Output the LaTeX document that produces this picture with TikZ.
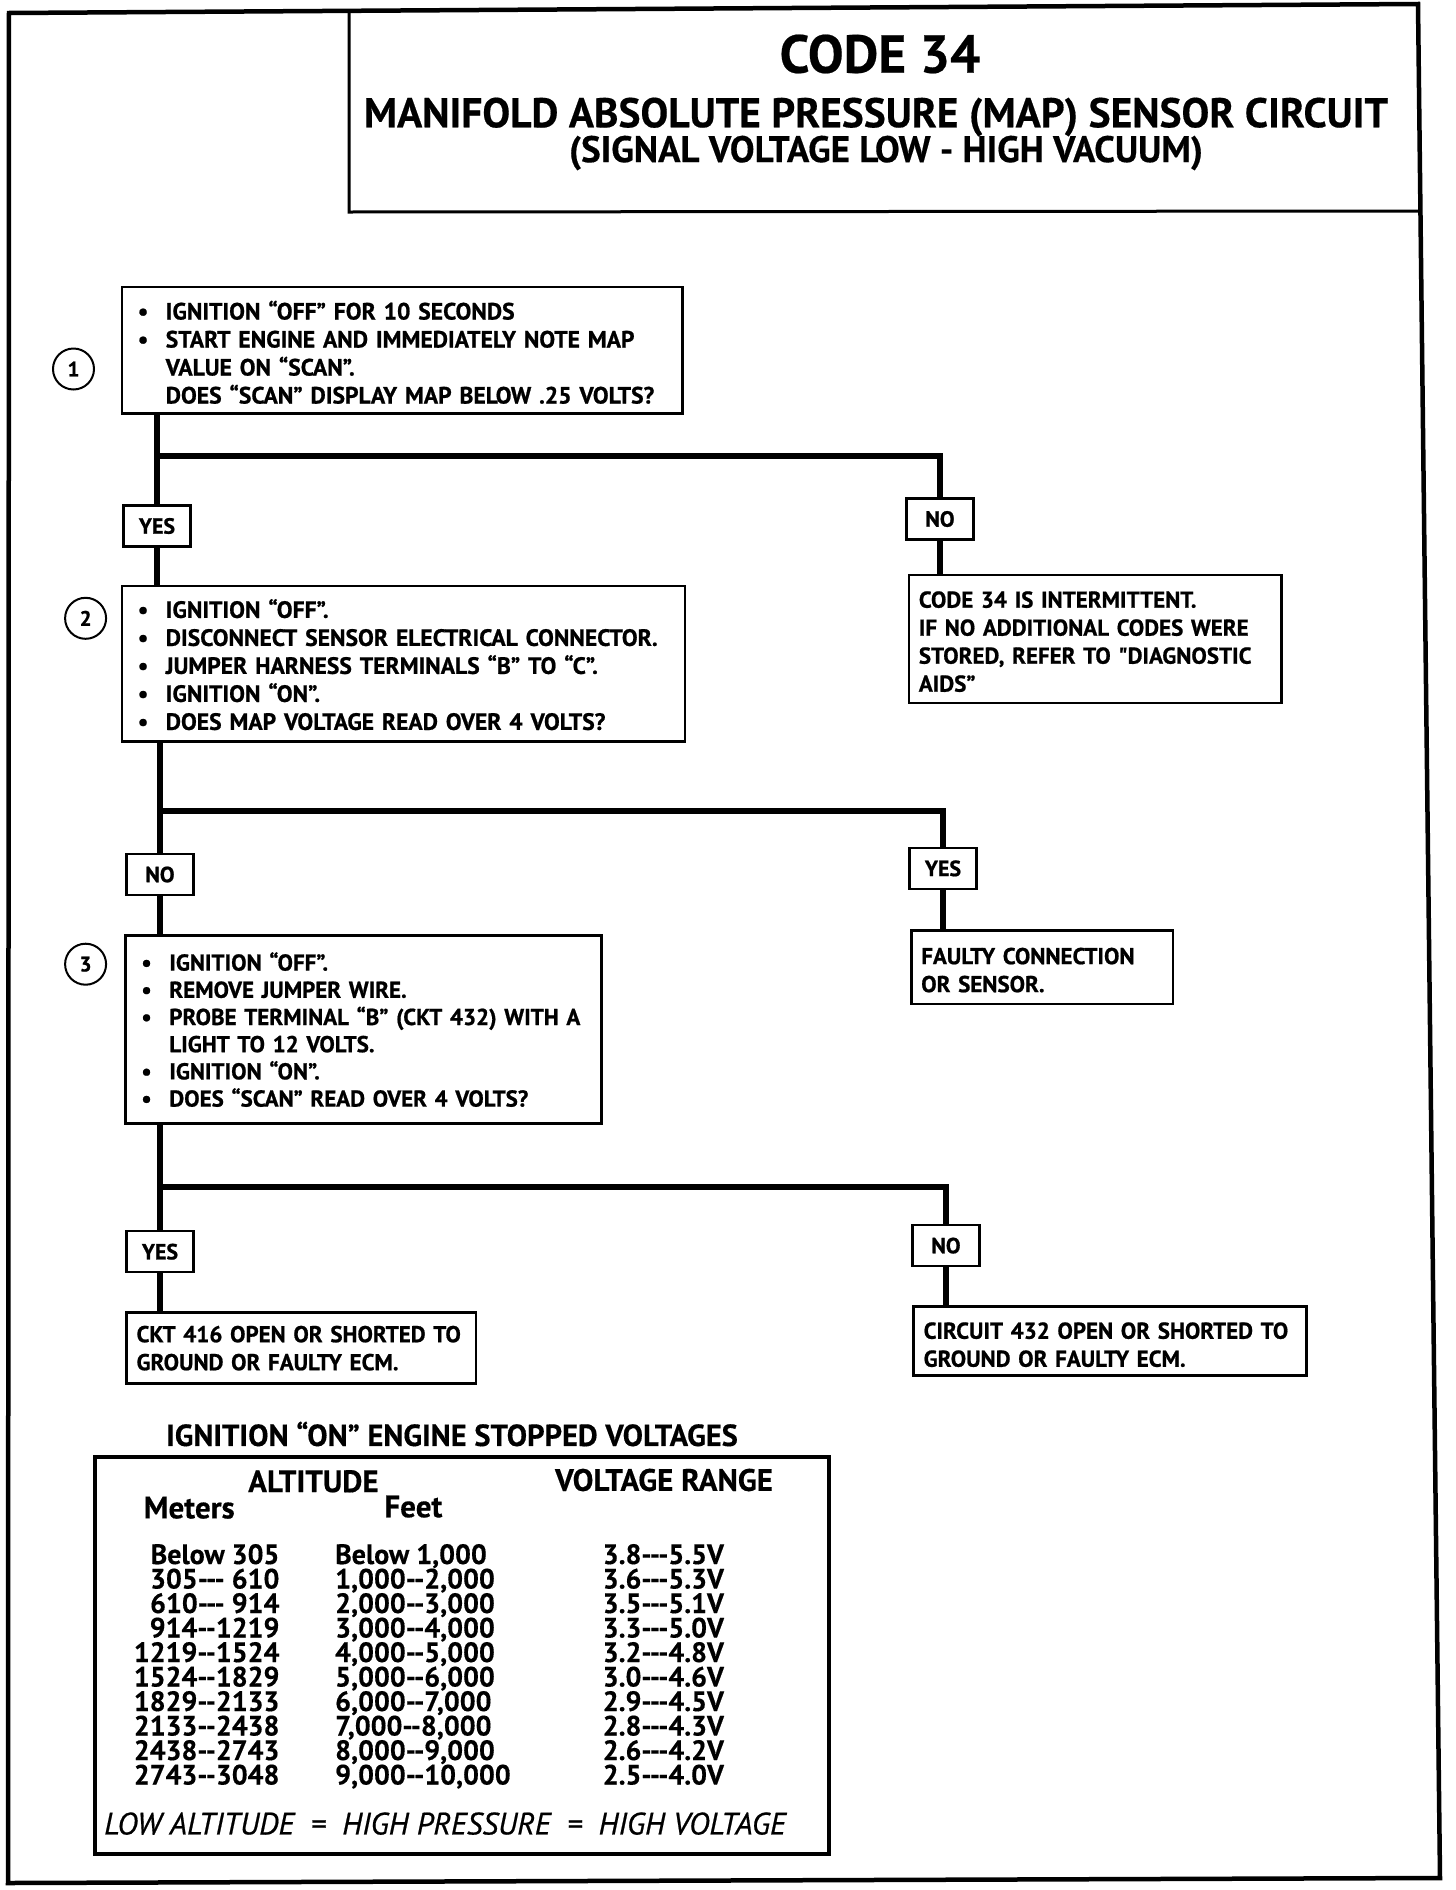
\documentclass[tikz,border=0pt]{standalone}
\usepackage{fontspec}
\setmainfont{PT Sans}
\newfontfamily\hvfont{PT Sans Bold}[FakeBold=0.8]
\newfontfamily\hdfont{PT Sans Bold}[FakeBold=0.4]
\newfontfamily\itfont{PT Sans Italic}[FakeBold=0.6]
\usetikzlibrary{calc}
\newcommand{\bul}{\makebox[28pt][l]{\textbullet}}
\newcommand{\ind}{\hspace*{28pt}}
\newcommand{\topstrut}{\rule{0pt}{23pt}}
\begin{document}
\begin{tikzpicture}[x=1pt,y=-1pt,
  conn/.style={line width=6pt},
  stepbox/.style={draw,line width=2.5pt,anchor=north west,inner xsep=16pt,inner ysep=0pt,align=left,
    font=\hvfont\fontsize{23.6}{28}\selectfont},
  outbox/.style={draw,line width=2.5pt,anchor=north west,inner xsep=10pt,inner ysep=0pt,align=left,
    font=\hvfont\fontsize{23}{28}\selectfont},
  yn/.style={draw,fill=white,line width=2.5pt,minimum width=67pt,minimum height=41pt,inner sep=0pt,
    font=\hvfont\fontsize{22}{22}\selectfont},
  num/.style={circle,draw,line width=2pt,minimum size=41pt,inner sep=0pt,
    font=\hvfont\fontsize{21}{21}\selectfont},
  tabtxt/.style={inner sep=0pt,font=\hdfont\fontsize{28}{28}\selectfont},
  tabhead/.style={inner sep=0pt,font=\hdfont\fontsize{31}{31}\selectfont},
]
\useasboundingbox (0,0) rectangle (1456,1890);
% outer frame
\draw[line width=4.5pt,line join=miter] (9,13) -- (1418,4) -- (1440,1878) -- (8,1883) -- cycle;
% title box
\draw[line width=3pt] (349,9) -- (349,212) -- (1420.5,211);
\node[inner sep=0pt,font=\hdfont\fontsize{53.5}{54}\selectfont] (t1) at (880,54) {CODE 34};
\node[inner sep=0pt,font=\hdfont\fontsize{41.5}{42}\selectfont] (t2) at (876,117) {MANIFOLD ABSOLUTE PRESSURE (MAP) SENSOR CIRCUIT};
\node[inner sep=0pt,font=\hdfont\fontsize{37}{37}\selectfont] (t3) at (886,153) {(SIGNAL VOLTAGE LOW - HIGH VACUUM)};

% step 1
\node[stepbox,text width=528.5pt,minimum height=126.5pt] (b1) at (120.5,285.7) {%
\topstrut\bul IGNITION “OFF” FOR 10 SECONDS\\
\bul START ENGINE AND IMMEDIATELY NOTE MAP\\
\ind VALUE ON “SCAN”.\\
\ind DOES “SCAN” DISPLAY MAP BELOW .25 VOLTS?};
\node[num] (n1) at (73.5,369) {1};
\node[yn] (yes1) at (157,526) {YES};
\node[yn] (no1) at (940,519) {NO};
\node[outbox,text width=352.4pt,minimum height=127.8pt] (int) at (907.6,573.7) {%
\rule{0pt}{22pt}CODE 34 IS INTERMITTENT.\\
IF NO ADDITIONAL CODES WERE\\
STORED, REFER TO "DIAGNOSTIC\\
AIDS”};
\coordinate (j1) at (157,455.6);
\draw[conn] (b1.south -| yes1) -- (yes1.north);
\draw[conn] (j1) -| (no1.north);
\draw[conn] (no1.south) -- (int.north -| no1);

% step 2
\node[stepbox,text width=531pt,minimum height=155.4pt] (b2) at (120.5,584.6) {%
\rule{0pt}{21pt}\bul IGNITION “OFF”.\\
\bul DISCONNECT SENSOR ELECTRICAL CONNECTOR.\\
\bul JUMPER HARNESS TERMINALS “B” TO “C”.\\
\bul IGNITION “ON”.\\
\bul DOES MAP VOLTAGE READ OVER 4 VOLTS?};
\draw[conn] (yes1.south) -- (b2.north -| yes1);
\node[num] (n2) at (85.6,618.3) {2};
\node[yn] (no2) at (160,874.5) {NO};
\node[yn] (yes2) at (943,868.4) {YES};
\node[outbox,text width=241.5pt,minimum height=73.5pt] (faulty) at (910,929.3) {%
\rule{0pt}{22pt}FAULTY CONNECTION\\
OR SENSOR.};
\coordinate (j2) at (160,811);
\draw[conn] (b2.south -| no2) -- (no2.north);
\draw[conn] (j2) -| (yes2.north);
\draw[conn] (yes2.south) -- (faulty.north -| yes2);

% step 3
\node[stepbox,text width=444pt,minimum height=188pt,font=\hvfont\fontsize{23}{27.2}\selectfont] (b3) at (124.1,934) {%
\rule{0pt}{19pt}\bul IGNITION “OFF”.\\
\bul REMOVE JUMPER WIRE.\\
\bul PROBE TERMINAL “B” (CKT 432) WITH A\\
\ind LIGHT TO 12 VOLTS.\\
\bul IGNITION “ON”.\\
\bul DOES “SCAN” READ OVER 4 VOLTS?};
\draw[conn] (no2.south) -- (b3.north -| no2);
\node[num] (n3) at (85.6,964.2) {3};
\node[yn] (yes3) at (160,1251.7) {YES};
\node[yn] (no3) at (946,1245.6) {NO};
\node[outbox,text width=329.6pt,minimum height=71pt] (ckt) at (125.3,1311.4) {%
CKT 416 OPEN OR SHORTED TO\\
GROUND OR FAULTY ECM.};
\node[outbox,text width=373pt,minimum height=68.7pt] (circ) at (912.4,1305.3) {%
\rule{0pt}{24pt}CIRCUIT 432 OPEN OR SHORTED TO\\
GROUND OR FAULTY ECM.};
\coordinate (j3) at (160,1187);
\draw[conn] (b3.south -| yes3) -- (yes3.north);
\draw[conn] (j3) -| (no3.north);
\draw[conn] (yes3.south) -- (ckt.north -| yes3);
\draw[conn] (no3.south) -- (circ.north -| no3);

% table
\node[inner sep=0pt,font=\hdfont\fontsize{30.5}{31}\selectfont] (tt) at (452,1434) {IGNITION “ON” ENGINE STOPPED VOLTAGES};
\node[draw,line width=4pt,anchor=north west,minimum width=733.8pt,minimum height=397pt,inner sep=0pt] (tab) at (93,1454.8) {};
\node[tabhead] (halt) at (313.4,1481.3) {ALTITUDE};
\node[tabhead] (hvol) at (664,1480) {VOLTAGE RANGE};
\node[tabhead] (hmet) at (189.2,1507.7) {Meters};
\node[tabhead] (hft) at (413.4,1506.6) {Feet};
\foreach \m/\f/\v [count=\i from 0] in {Below 305/Below 1{,}000/3.8---5.5V,305--- 610/1{,}000--2{,}000/3.6---5.3V,610--- 914/2{,}000--3{,}000/3.5---5.1V,914--1219/3{,}000--4{,}000/3.3---5.0V,1219--1524/4{,}000--5{,}000/3.2---4.8V,1524--1829/5{,}000--6{,}000/3.0---4.6V,1829--2133/6{,}000--7{,}000/2.9---4.5V,2133--2438/7{,}000--8{,}000/2.8---4.3V,2438--2743/8{,}000--9{,}000/2.6---4.2V,2743--3048/9{,}000--10{,}000/2.5---4.0V}{
  \node[tabtxt,anchor=base east] (m\i) at (279.6,1564+24.5*\i) {\m};
  \node[tabtxt,anchor=base west] (f\i) at (335,1564+24.5*\i) {\f};
  \node[tabtxt,anchor=base west] (v\i) at (602.6,1564+24.5*\i) {\v};
}
\node[inner sep=0pt,font=\itfont\fontsize{31}{31}\selectfont] (low) at (445,1823.6) {LOW ALTITUDE \ = \ HIGH PRESSURE \ = \ HIGH VOLTAGE};
\end{tikzpicture}
\end{document}
